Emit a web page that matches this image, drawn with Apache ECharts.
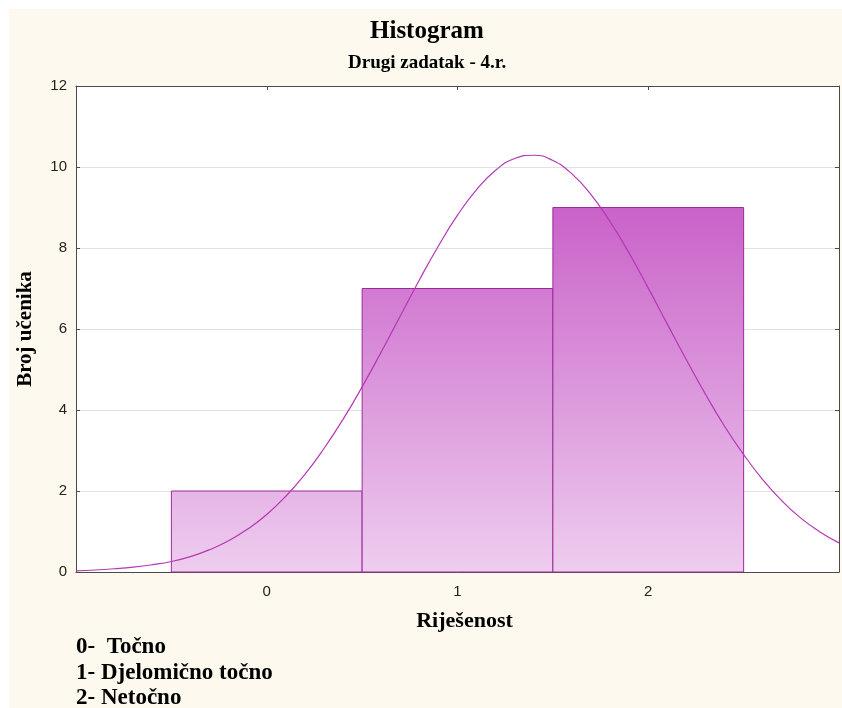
<!DOCTYPE html>
<html>
<head>
<meta charset="utf-8">
<title>Histogram</title>
<script src="https://cdn.jsdelivr.net/npm/echarts@6/dist/echarts.min.js"></script>
<style>
  html, body { margin: 0; padding: 0; background: #ffffff; }
  #bg { position: absolute; left: 9px; top: 9px; right: 0; bottom: 0; background: #fef9ee; }
  #chart { position: absolute; left: 0; top: 0; width: 842px; height: 708px; }
</style>
</head>
<body>
<div id="bg"></div>
<div id="chart"></div>
<script>
// podaci
var categories = [0, 1, 2];
var counts = [2, 7, 9];
// očitana normalna krivulja
var curveX = [-1.0, -0.9, -0.8, -0.7, -0.6, -0.5, -0.4, -0.3, -0.2, -0.1,
              0.0, 0.1, 0.2, 0.3, 0.4, 0.5, 0.6, 0.7, 0.8, 0.9,
              1.0, 1.1, 1.2, 1.3, 1.4, 1.5, 1.6, 1.7, 1.8, 1.9,
              2.0, 2.1, 2.2, 2.3, 2.4, 2.5, 2.6, 2.7, 2.8, 2.9, 3.0];
var curveY = [0.03, 0.05, 0.08, 0.12, 0.18, 0.26, 0.38, 0.55, 0.77, 1.06,
              1.42, 1.87, 2.41, 3.05, 3.77, 4.57, 5.43, 6.32, 7.21, 8.05,
              8.81, 9.44, 9.92, 10.21, 10.29, 10.16, 9.83, 9.32, 8.65, 7.87,
              7.01, 6.12, 5.24, 4.39, 3.60, 2.90, 2.28, 1.76, 1.33, 0.99, 0.72];
var legendLines = ['0-  Točno', '1- Djelomično točno', '2- Netočno'];

var myChart = echarts.init(document.getElementById('chart'));

var barData = categories.map(function (c, i) { return [c, counts[i]]; });
var lineData = curveX.map(function (x, i) { return [x, curveY[i]]; });

var axisCol = '#4a4a4a';
var serif = '"Liberation Serif", "DejaVu Serif", serif';
var sans = '"Liberation Sans", Arial, sans-serif';

var option = {
    backgroundColor: 'transparent',
    animation: false,
    title: [
        {
            text: 'Histogram', left: 370, top: 14, padding: [5, 0, 5, 0],
            textStyle: { fontFamily: serif, fontWeight: 'bold', fontSize: 25, color: '#000' }
        },
        {
            text: 'Drugi zadatak - 4.r.', left: 348, top: 49, padding: [5, 0, 5, 0],
            textStyle: { fontFamily: serif, fontWeight: 'bold', fontSize: 19, color: '#000' }
        }
    ],
    graphic: legendLines.map(function (t, i) {
        return {
            type: 'text', left: 76, top: 636 + i * 25.5,
            style: { text: t, font: 'bold 23px ' + serif, fill: '#000' }
        };
    }),
    grid: {
        left: 76, right: 3, top: 86, bottom: 136,
        outerBoundsMode: 'none', containLabel: false,
        show: true, backgroundColor: '#ffffff', borderWidth: 0
    },
    xAxis: [
        {
            type: 'value', min: -1, max: 3, interval: 1,
            name: 'Riješenost', nameLocation: 'middle', nameGap: 38,
            nameTextStyle: { fontFamily: serif, fontWeight: 'bold', fontSize: 22, color: '#000', padding: [0, 0, 0, 14] },
            axisLine: { show: true, onZero: false, lineStyle: { color: axisCol, width: 1 } },
            axisTick: { show: true, inside: true, length: 4, lineStyle: { color: axisCol } },
            axisLabel: { showMinLabel: false, showMaxLabel: false, fontFamily: sans, fontSize: 15, color: '#222', margin: 12 },
            splitLine: { show: false }
        },
        {
            type: 'value', position: 'top', min: -1, max: 3, interval: 1,
            axisLine: { show: true, onZero: false, lineStyle: { color: axisCol, width: 1 } },
            axisTick: { show: true, inside: true, length: 4, lineStyle: { color: axisCol } },
            axisLabel: { show: false },
            splitLine: { show: false }
        }
    ],
    yAxis: [
        {
            type: 'value', min: 0, max: 12, interval: 2,
            name: 'Broj učenika', nameLocation: 'middle', nameGap: 40,
            nameTextStyle: { fontFamily: serif, fontWeight: 'bold', fontSize: 21, color: '#000' },
            axisLine: { show: true, onZero: false, lineStyle: { color: axisCol, width: 1 } },
            axisTick: { show: true, inside: true, length: 4, lineStyle: { color: axisCol } },
            axisLabel: { fontFamily: sans, fontSize: 15, color: '#222', margin: 9 },
            splitLine: { show: true, lineStyle: { color: '#e2e2e2', width: 1 } }
        },
        {
            type: 'value', position: 'right', min: 0, max: 12, interval: 2,
            axisLine: { show: true, onZero: false, lineStyle: { color: axisCol, width: 1 } },
            axisTick: { show: true, inside: true, length: 4, lineStyle: { color: axisCol } },
            axisLabel: { show: false },
            splitLine: { show: false }
        }
    ],
    series: [
        {
            name: 'Broj',
            type: 'custom',
            xAxisIndex: 0, yAxisIndex: 0,
            data: barData,
            z: 2,
            renderItem: function (params, api) {
                var x = api.value(0), y = api.value(1);
                var p0 = api.coord([x - 0.5, y]);
                var p1 = api.coord([x + 0.5, 0]);
                var top = api.coord([0, 12])[1];
                var bot = api.coord([0, 0])[1];
                return {
                    type: 'rect',
                    shape: { x: p0[0], y: p0[1], width: p1[0] - p0[0], height: p1[1] - p0[1] },
                    style: {
                        fill: new echarts.graphic.LinearGradient(0, top, 0, bot, [
                            { offset: 0, color: '#bd3ebd' },
                            { offset: 1, color: '#eecdee' }
                        ], true),
                        stroke: '#9a2c9a',
                        lineWidth: 1
                    }
                };
            }
        },
        {
            name: 'Normalna',
            type: 'line',
            xAxisIndex: 0, yAxisIndex: 0,
            data: lineData,
            smooth: true,
            showSymbol: false,
            clip: true,
            z: 3,
            lineStyle: { color: '#b437b4', width: 1.2 }
        }
    ]
};

myChart.setOption(option);
</script>
</body>
</html>
